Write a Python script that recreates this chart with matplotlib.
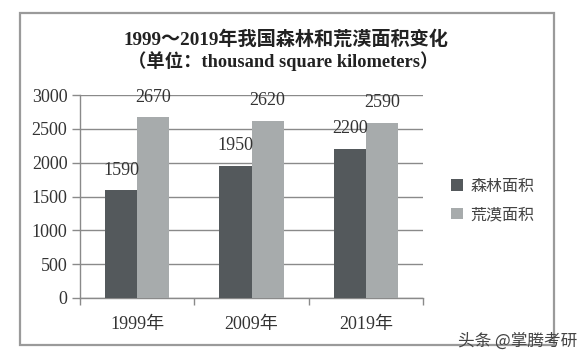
import matplotlib
matplotlib.use("Agg")
import matplotlib.pyplot as plt
from matplotlib.patches import Rectangle
import numpy as np

categories = ["1999年", "2009年", "2019年"]
forest = [1590, 1950, 2200]
desert = [2670, 2620, 2590]
series_names = ["森林面积", "荒漠面积"]
yticks = [0, 500, 1000, 1500, 2000, 2500, 3000]

FONT = ["Liberation Serif", "Noto Sans CJK SC", "DejaVu Sans"]
plt.rcParams["font.family"] = FONT

W, H = 584, 361
fig = plt.figure(figsize=(W / 100, H / 100), dpi=100)
fig.patch.set_facecolor("white")

# outer frame
fig.patches.append(Rectangle((20 / W, 1 - 345 / H), (554 - 20) / W, (345 - 13) / H,
                             transform=fig.transFigure, fill=False,
                             edgecolor="#9a9a9a", linewidth=1.6))

ax = fig.add_axes([80 / W, 1 - 298 / H, (423 - 80) / W, (298 - 95) / H])
x = np.arange(len(categories))
bw = 0.28
dark = "#54595c"
light = "#a7abac"
b1 = ax.bar(x - bw / 2, forest, bw, color=dark, label=series_names[0], zorder=3)
b2 = ax.bar(x + bw / 2, desert, bw, color=light, label=series_names[1], zorder=3)

for bars, vals in ((b1, forest), (b2, desert)):
    for r, v in zip(bars, vals):
        ax.annotate(str(v), (r.get_x() + r.get_width() / 2, v), xytext=(0, 14.5),
                    textcoords="offset points", ha="center", va="center",
                    fontsize=13, color="#333333")

ax.set_xlim(-0.5, 2.5)
ax.set_ylim(0, 3000)
ax.set_yticks(yticks)
ax.set_yticklabels([str(t) for t in yticks], fontsize=13, color="#333333")
ax.yaxis.grid(True, color="#8a8a8a", linewidth=1.0, zorder=0)
ax.set_axisbelow(True)
ax.set_xticks(x)
ax.set_xticklabels(categories, fontsize=13, color="#333333")
ax.tick_params(axis="x", length=0, pad=13)
ax.set_xticks([-0.5, 0.5, 1.5, 2.5], minor=True)
ax.tick_params(axis="x", which="minor", length=5, color="#8a8a8a", width=1.0)
ax.tick_params(axis="y", length=6, color="#8a8a8a", width=1.0, pad=3)
for s in ["top", "right"]:
    ax.spines[s].set_visible(False)
for s in ["left", "bottom"]:
    ax.spines[s].set_color("#8a8a8a")
    ax.spines[s].set_linewidth(1.0)

fig.text(286 / W, 1 - 39 / H, "1999～2019年我国森林和荒漠面积变化", ha="center", va="center",
         fontsize=13.8, fontweight="bold", color="#222222")
fig.text(283 / W, 1 - 61 / H, "（单位：thousand square kilometers）", ha="center", va="center",
         fontsize=13.2, fontweight="bold", color="#222222")

leg = ax.legend(loc="center left", bbox_to_anchor=(437 / W, 1 - 201 / H),
                bbox_transform=fig.transFigure, frameon=False,
                prop={"family": FONT, "size": 11.5}, handlelength=0.7, handleheight=0.7,
                handletextpad=0.5, labelspacing=0.8)
for t in leg.get_texts():
    t.set_color("#444444")

fig.text(577 / W, 1 - 341 / H, "头条 @掌腾考研", ha="right", va="center", fontsize=12,
         color="#444444", family=["Noto Sans CJK SC", "DejaVu Sans"])

fig.savefig("out.png", dpi=100, facecolor="white")
